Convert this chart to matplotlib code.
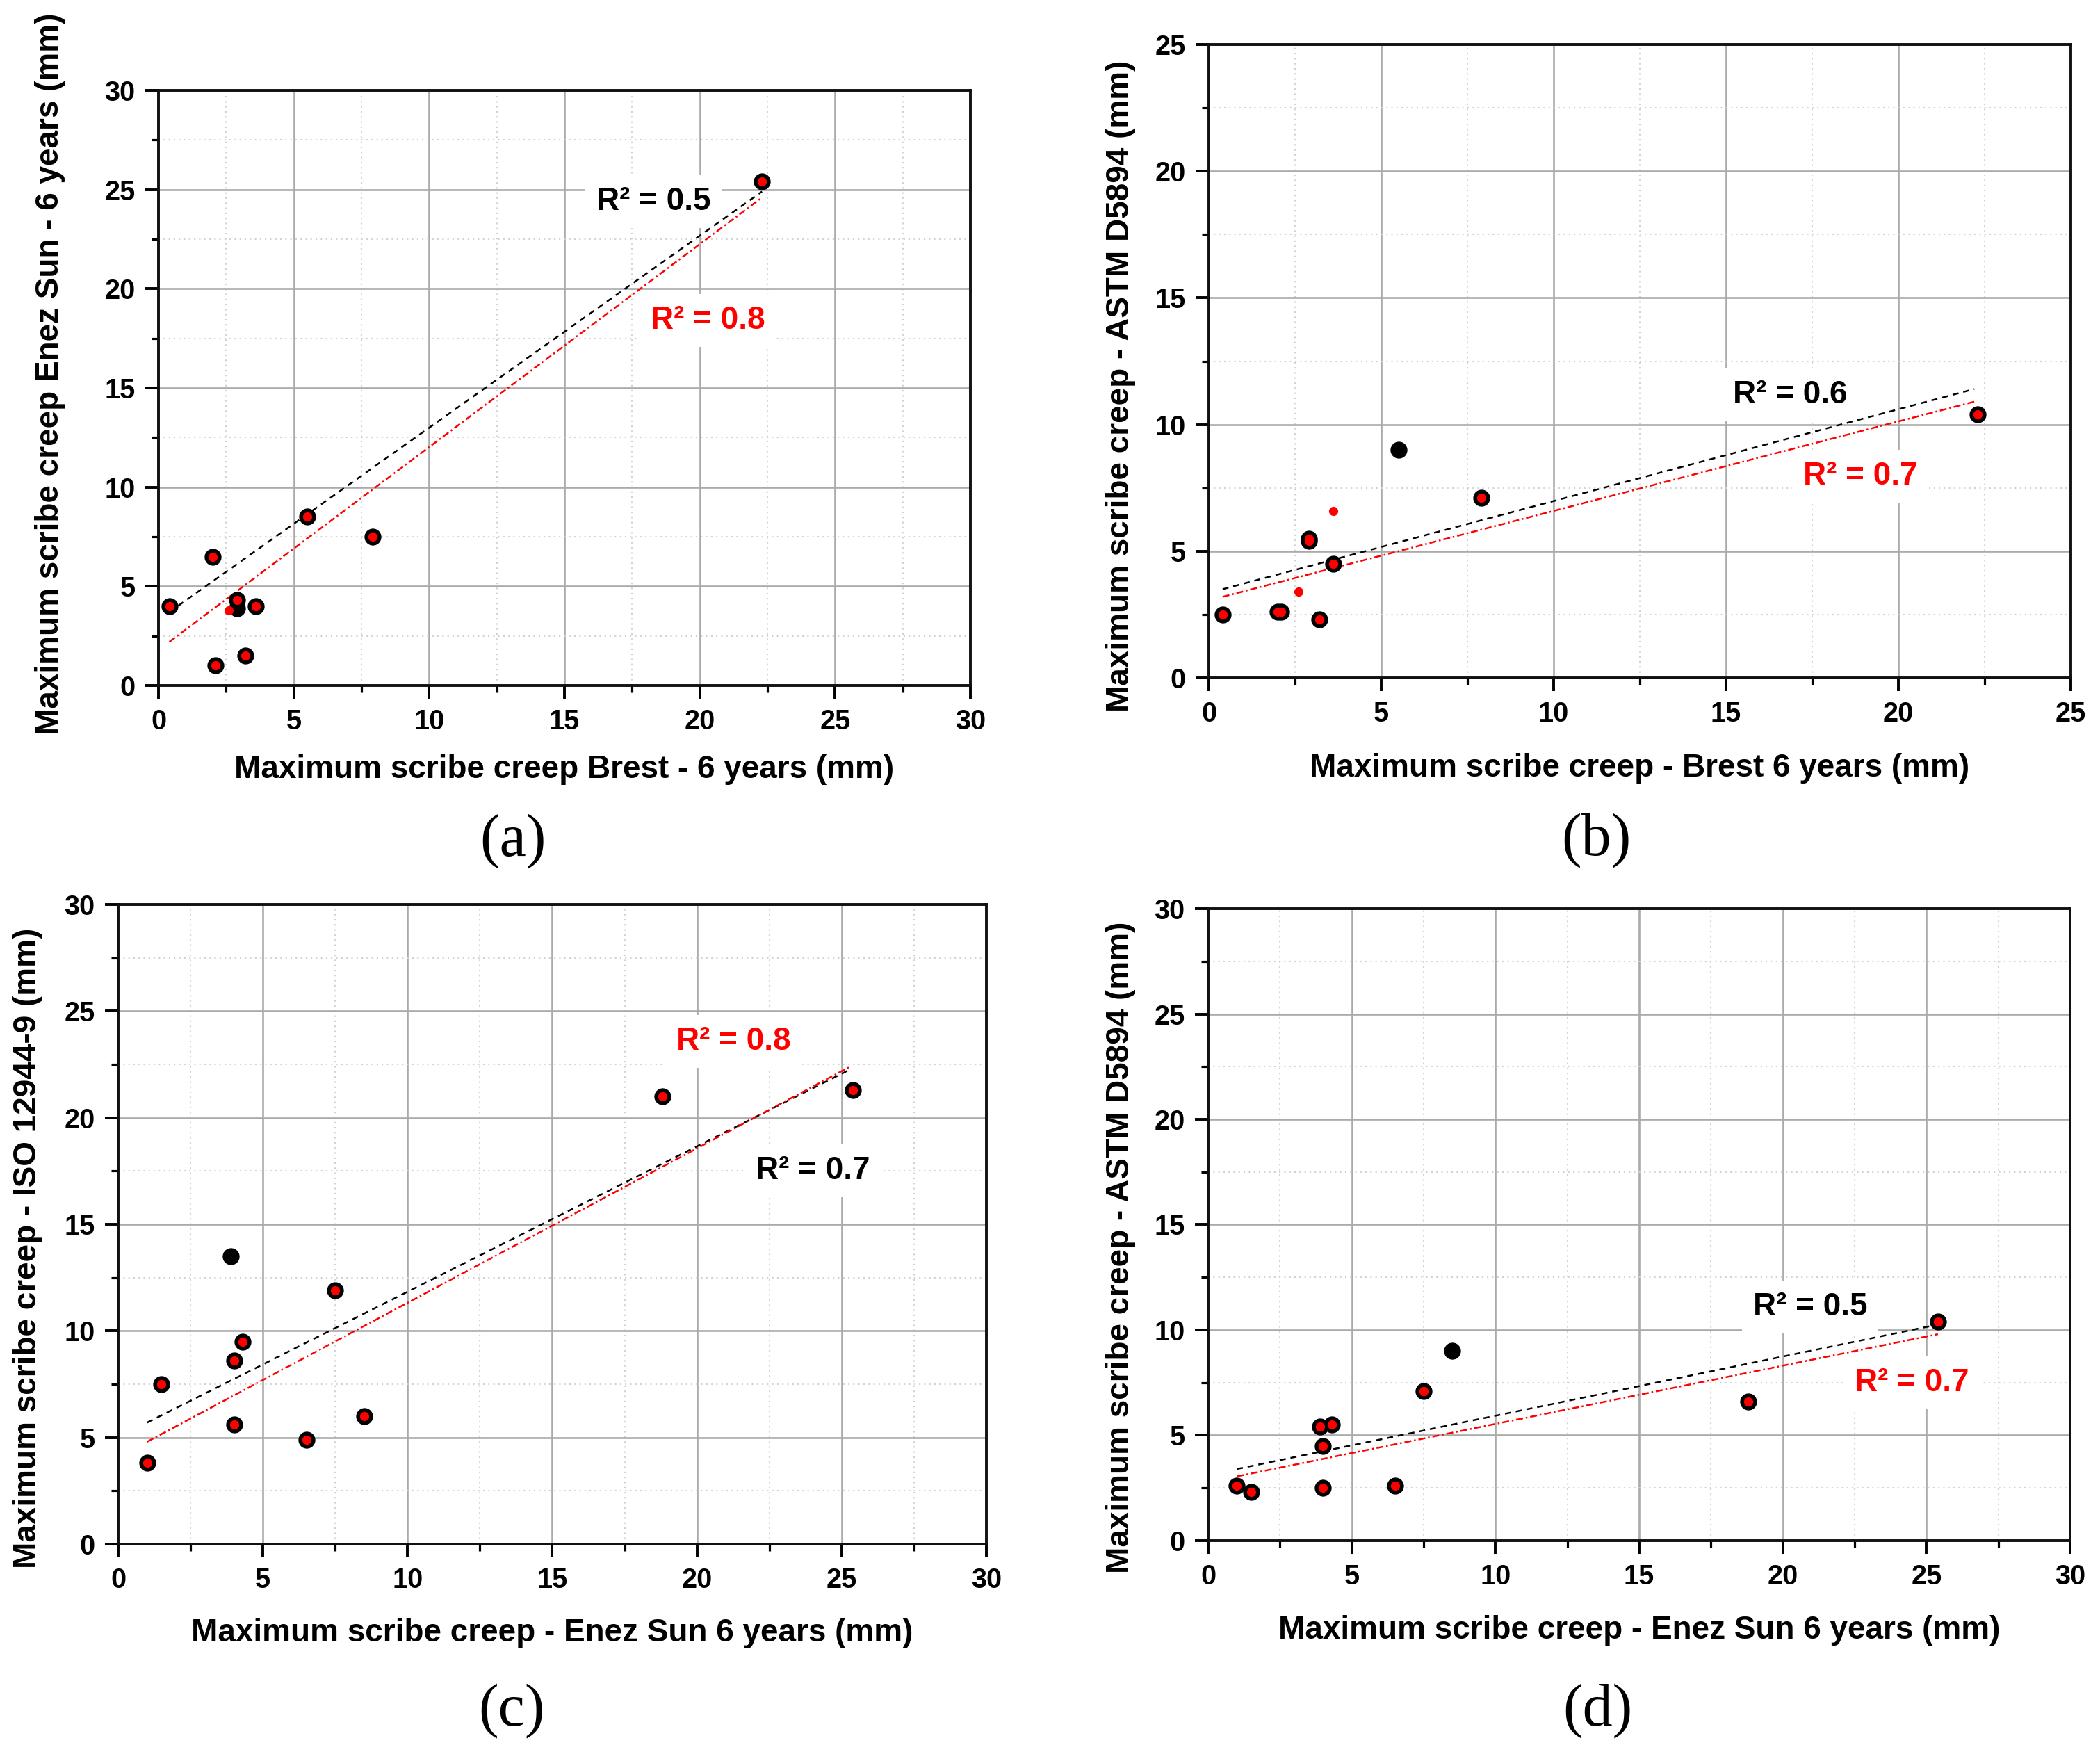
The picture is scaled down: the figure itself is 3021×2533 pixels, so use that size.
import matplotlib
matplotlib.use("Agg")
import matplotlib.pyplot as plt
from matplotlib.ticker import MultipleLocator

plt.rcParams['font.family'] = ['Liberation Sans', 'DejaVu Sans']

# ---------------- data ----------------
# (a) Brest vs Enez Sun
a_black_x = [0.4, 2.0, 2.1, 2.9, 2.9, 3.2, 3.6, 5.5, 7.9, 22.3]
a_black_y = [4.0, 6.5, 1.0, 4.3, 3.9, 1.5, 4.0, 8.5, 7.5, 25.4]
a_red_x = [0.4, 2.0, 2.1, 2.9, 2.6, 3.2, 3.6, 5.5, 7.9, 22.3]
a_red_y = [4.0, 6.5, 1.0, 4.3, 3.8, 1.5, 4.0, 8.5, 7.5, 25.4]
a_fit_x = [0.4, 22.3]
a_fit_black = [3.7, 24.9]
a_fit_red = [2.2, 24.6]

# (b) Brest vs ASTM D5894
b_black_x = [0.4, 2.0, 2.1, 2.9, 2.9, 3.2, 3.6, 5.5, 7.9, 22.3]
b_black_y = [2.5, 2.6, 2.6, 5.5, 5.4, 2.3, 4.5, 9.0, 7.1, 10.4]
b_red_x = [0.4, 2.0, 2.1, 2.9, 2.9, 3.2, 3.6, 7.9, 22.3, 2.6, 3.6]
b_red_y = [2.5, 2.6, 2.6, 5.5, 5.4, 2.3, 4.5, 7.1, 10.4, 3.4, 6.6]
b_fit_x = [0.4, 22.2]
b_fit_black = [3.5, 11.4]
b_fit_red = [3.2, 10.9]

# (c) Enez Sun vs ISO 12944-9
c_black_x = [1.0, 1.5, 3.9, 4.0, 4.3, 4.0, 6.5, 7.5, 8.5, 18.8, 25.4]
c_black_y = [3.8, 7.5, 13.5, 8.6, 9.5, 5.6, 4.9, 11.9, 6.0, 21.0, 21.3]
c_red_x = [1.0, 1.5, 4.0, 4.3, 4.0, 6.5, 7.5, 8.5, 18.8, 25.4]
c_red_y = [3.8, 7.5, 8.6, 9.5, 5.6, 4.9, 11.9, 6.0, 21.0, 21.3]
c_fit_x_black = [1.0, 25.2]
c_fit_black = [5.7, 22.2]
c_fit_x_red = [1.0, 25.3]
c_fit_red = [4.8, 22.4]

# (d) Enez Sun vs ASTM D5894
d_black_x = [1.0, 1.5, 3.9, 4.3, 4.0, 4.0, 6.5, 7.5, 8.5, 18.8, 25.4]
d_black_y = [2.6, 2.3, 5.4, 5.5, 4.5, 2.5, 2.6, 7.1, 9.0, 6.6, 10.4]
d_red_x = [1.0, 1.5, 3.9, 4.3, 4.0, 4.0, 6.5, 7.5, 18.8, 25.4]
d_red_y = [2.6, 2.3, 5.4, 5.5, 4.5, 2.5, 2.6, 7.1, 6.6, 10.4]
d_fit_x_black = [1.0, 25.2]
d_fit_black = [3.4, 10.2]
d_fit_x_red = [1.0, 25.4]
d_fit_red = [3.05, 9.8]

panels = [
    dict(rect=[0.07547, 0.61074, 0.38663, 0.33794], lim=30,
         bx=a_black_x, by=a_black_y, rx=a_red_x, ry=a_red_y,
         fxb=a_fit_x, fb=a_fit_black, fxr=a_fit_x, fr=a_fit_red,
         xlabel='Maximum scribe creep Brest - 6 years (mm)',
         ylabel='Maximum scribe creep Enez Sun - 6 years (mm)',
         r2b=('R² = 0.5', 18.3, 24.4), r2r=('R² = 0.8', 20.3, 18.4),
         xlc=-0.1414, ylc=(-0.1336, 0.523), tag='(a)', tagpos=(0.2443, 0.5223)),
    dict(rect=[0.57564, 0.61508, 0.41046, 0.35965], lim=25,
         bx=b_black_x, by=b_black_y, rx=b_red_x, ry=b_red_y,
         fxb=b_fit_x, fb=b_fit_black, fxr=b_fit_x, fr=b_fit_red,
         xlabel='Maximum scribe creep - Brest 6 years (mm)',
         ylabel='Maximum scribe creep - ASTM D5894 (mm)',
         r2b=('R² = 0.6', 16.86, 11.16), r2r=('R² = 0.7', 18.9, 7.97),
         xlc=-0.1427, ylc=(-0.1024, 0.461), tag='(b)', tagpos=(0.7600, 0.5227)),
    dict(rect=[0.05627, 0.12317, 0.41344, 0.36321], lim=30,
         bx=c_black_x, by=c_black_y, rx=c_red_x, ry=c_red_y,
         fxb=c_fit_x_black, fb=c_fit_black, fxr=c_fit_x_red, fr=c_fit_red,
         xlabel='Maximum scribe creep - Enez Sun 6 years (mm)',
         ylabel='Maximum scribe creep - ISO 12944-9 (mm)',
         r2b=('R² = 0.7', 24.0, 17.5), r2r=('R² = 0.8', 21.26, 23.59),
         xlc=-0.139, ylc=(-0.104, 0.463), tag='(c)', tagpos=(0.2436, 0.0284)),
    dict(rect=[0.57531, 0.12515, 0.41046, 0.35886], lim=30,
         bx=d_black_x, by=d_black_y, rx=d_red_x, ry=d_red_y,
         fxb=d_fit_x_black, fb=d_fit_black, fxr=d_fit_x_red, fr=d_fit_red,
         xlabel='Maximum scribe creep - Enez Sun 6 years (mm)',
         ylabel='Maximum scribe creep - ASTM D5894 (mm)',
         r2b=('R² = 0.5', 20.95, 11.08), r2r=('R² = 0.7', 24.5, 7.49),
         xlc=-0.142, ylc=(-0.1016, 0.464), tag='(d)', tagpos=(0.7607, 0.0284)),
]

fig = plt.figure(figsize=(30.21, 25.33), dpi=100)

for p in panels:
    ax = fig.add_axes(p['rect'])
    lim = p['lim']
    ax.set_xlim(0, lim)
    ax.set_ylim(0, lim)
    ax.xaxis.set_major_locator(MultipleLocator(5))
    ax.yaxis.set_major_locator(MultipleLocator(5))
    ax.xaxis.set_minor_locator(MultipleLocator(2.5))
    ax.yaxis.set_minor_locator(MultipleLocator(2.5))
    ax.grid(which='major', color='#aaaaaa', linewidth=1.9, zorder=0)
    ax.grid(which='minor', color='#d2d2d2', linewidth=1.5, linestyle=(0, (1, 2.5)), zorder=0)
    ax.set_axisbelow(True)
    for s in ax.spines.values():
        s.set_linewidth(2.8)
        s.set_color('#111111')
    ax.tick_params(which='major', direction='out', length=14, width=2.8,
                   labelsize=28.5, pad=10, top=False, right=False)
    ax.tick_params(which='minor', direction='out', length=7, width=2.3,
                   top=False, right=False)
    for lab in ax.get_xticklabels() + ax.get_yticklabels():
        lab.set_fontweight('bold')

    # trend lines
    ax.plot(p['fxb'], p['fb'], color='black', linewidth=1.8,
            linestyle=(0, (3.5, 2.8)), zorder=3)
    ax.plot(p['fxr'], p['fr'], color='red', linewidth=1.8,
            linestyle=(0, (4, 1.6, 1, 1.6)), zorder=3)

    # points
    ax.plot(p['bx'], p['by'], linestyle='none', marker='o', markersize=16.5,
            markerfacecolor='black', markeredgecolor='black', zorder=4, clip_on=False)
    ax.plot(p['rx'], p['ry'], linestyle='none', marker='o', markersize=9.5,
            markerfacecolor='red', markeredgecolor='none', zorder=5, clip_on=False)

    # R² annotations
    t, x, y = p['r2b']
    ax.text(x, y, t, color='black', fontsize=33, fontweight='bold',
            ha='center', va='center', zorder=2,
            bbox=dict(boxstyle='square,pad=0.35', facecolor='white', edgecolor='none'))
    t, x, y = p['r2r']
    ax.text(x, y, t, color='red', fontsize=33, fontweight='bold',
            ha='center', va='center', zorder=2,
            bbox=dict(boxstyle='square,pad=0.35', facecolor='white', edgecolor='none'))

    ax.set_xlabel(p['xlabel'], fontsize=33, fontweight='bold', va='center')
    ax.xaxis.set_label_coords(0.5, p['xlc'])
    ax.set_ylabel(p['ylabel'], fontsize=33, fontweight='bold', va='center')
    ax.yaxis.set_label_coords(*p['ylc'])

    fig.text(p['tagpos'][0], p['tagpos'][1], p['tag'], fontsize=62,
             family=['Liberation Serif', 'DejaVu Serif'], ha='center', va='center')

fig.savefig('out.png', dpi=100)
